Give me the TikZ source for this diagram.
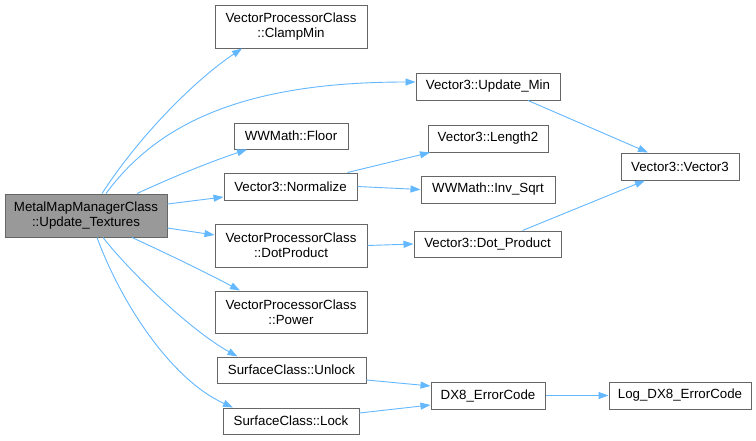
\documentclass[tikz,border=0pt]{standalone}
\usepackage{fontspec}
\setmainfont{Liberation Sans}
\usetikzlibrary{arrows.meta}
\definecolor{edgeblue}{HTML}{63B8FF}
\definecolor{nodeborder}{HTML}{666666}
\definecolor{mainfill}{HTML}{999999}
\begin{document}
\begin{tikzpicture}[x=1pt,y=-1pt,
  fn/.style={draw=nodeborder,line width=1pt,fill=white,inner sep=0pt,align=center,
    font=\fontsize{13.3}{15}\selectfont,text=black},
  mainfn/.style={fn,fill=mainfill},
  edge/.style={draw=edgeblue,line width=0.9pt,-{Triangle[length=10pt,width=7pt]}}]
\useasboundingbox (0,0) rectangle (756,440);
\fill[white] (0,0) rectangle (756,440);
% nodes
\node[mainfn,minimum width=162pt,minimum height=43pt] (main) at (86,215.5) {MetalMapManagerClass\\::Update\_Textures};
\node[fn,minimum width=152pt,minimum height=43pt] (clamp) at (291,26.5) {VectorProcessorClass\\::ClampMin};
\node[fn,minimum width=114pt,minimum height=26pt] (floor) at (291,136) {WWMath::Floor};
\node[fn,minimum width=133pt,minimum height=27pt] (normalize) at (290.5,186.5) {Vector3::Normalize};
\node[fn,minimum width=152pt,minimum height=43pt] (dotprod) at (291,245.5) {VectorProcessorClass\\::DotProduct};
\node[fn,minimum width=152pt,minimum height=42pt] (power) at (291,312) {VectorProcessorClass\\::Power};
\node[fn,minimum width=149pt,minimum height=26pt] (unlock) at (291.5,370) {SurfaceClass::Unlock};
\node[fn,minimum width=136pt,minimum height=26pt] (lock) at (291,421) {SurfaceClass::Lock};
\node[fn,minimum width=144pt,minimum height=27pt] (updmin) at (488,86.5) {Vector3::Update\_Min};
\node[fn,minimum width=120pt,minimum height=27pt] (length) at (488,138.5) {Vector3::Length2};
\node[fn,minimum width=134pt,minimum height=27pt] (invsqrt) at (488,189.5) {WWMath::Inv\_Sqrt};
\node[fn,minimum width=147pt,minimum height=26pt] (v3dot) at (487.5,244) {Vector3::Dot\_Product};
\node[fn,minimum width=118pt,minimum height=27pt] (vec3) at (680,166.5) {Vector3::Vector3};
\node[fn,minimum width=114pt,minimum height=27pt] (dx8) at (488,395.5) {DX8\_ErrorCode};
\node[fn,minimum width=142pt,minimum height=27pt] (logdx8) at (680,395.5) {Log\_DX8\_ErrorCode};
% edges
\draw[edge] ([xshift=16pt]main.north) .. controls (140,135) and (195,80) .. ([xshift=-49pt]clamp.south);
\draw[edge] ([xshift=20pt]main.north) .. controls (160,120) and (250,82) .. ([yshift=4.5pt]updmin.west);
\draw[edge] ([xshift=51pt]main.north) .. controls (175,176) and (210,162) .. ([xshift=-44pt]floor.south);
\draw[edge] ([yshift=11.5pt]main.east) -- ([yshift=-10.5pt]normalize.west);
\draw[edge] ([yshift=-12.5pt]main.east) -- ([yshift=10.5pt]dotprod.west);
\draw[edge] ([xshift=46pt]main.south) .. controls (170,255) and (205,272) .. ([xshift=-51pt]power.north);
\draw[edge] ([xshift=17pt]main.south) .. controls (130,272) and (190,330) .. ([xshift=-54pt]unlock.north);
\draw[edge] ([xshift=11pt]main.south) .. controls (122,305) and (172,380) .. ([xshift=-58pt]lock.north);
\draw[edge] ([xshift=57pt]normalize.north) -- ([xshift=-58pt]length.south);
\draw[edge] (normalize.east) -- (invsqrt.west);
\draw[edge] (dotprod.east) -- (v3dot.west);
\draw[edge] ([xshift=40pt]updmin.south) -- ([xshift=-32pt]vec3.north);
\draw[edge] ([xshift=35pt]v3dot.north) -- ([xshift=-35pt]vec3.south);
\draw[edge] ([yshift=-10pt]unlock.east) -- ([yshift=9.5pt]dx8.west);
\draw[edge] ([yshift=8pt]lock.east) -- ([yshift=-9.5pt]dx8.west);
\draw[edge] (dx8.east) -- (logdx8.west);
\end{tikzpicture}
\end{document}
